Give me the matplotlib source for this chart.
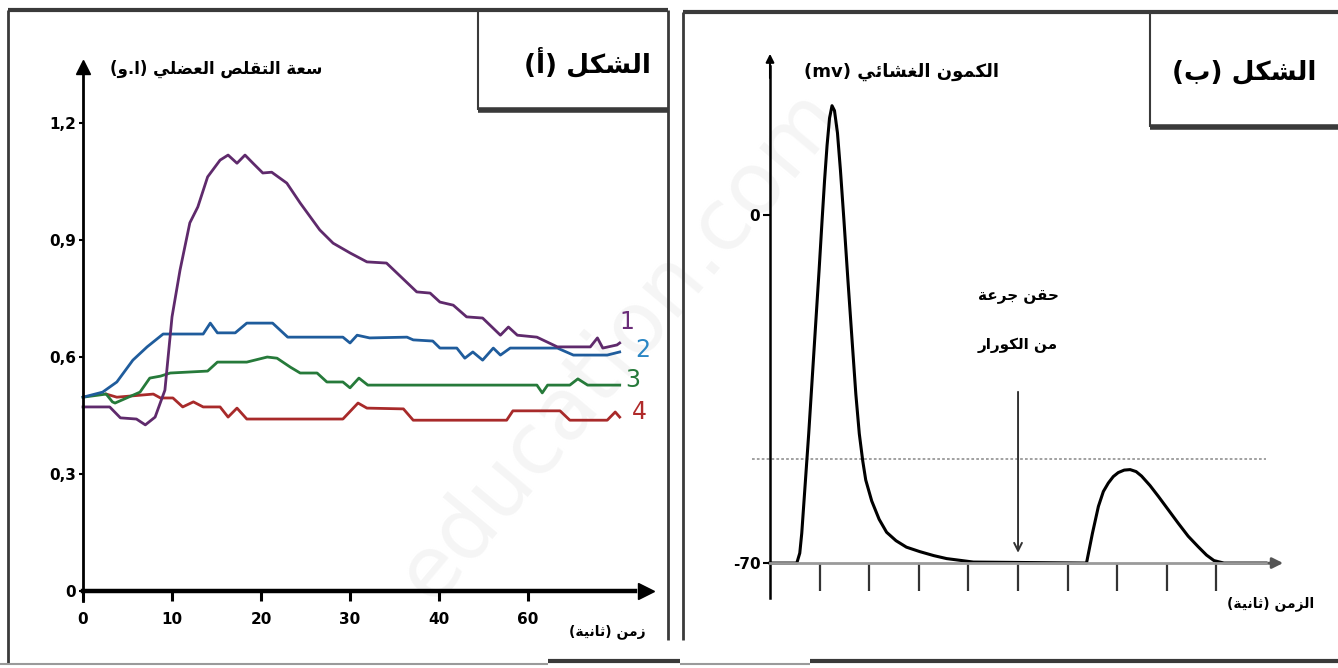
"""Muscle contraction amplitude under curare (fig. a) and membrane potential (fig. b)."""
import matplotlib

matplotlib.use("Agg")
import matplotlib.pyplot as plt
from matplotlib.lines import Line2D

# ---- figure (a): contraction amplitude, arbitrary units ----
T1 = [0, 3.0, 4.2, 6.0, 7.0, 8.1, 9.2, 10.0, 10.9, 12.0, 12.9, 14.0, 15.4, 16.3, 17.3, 18.2,
      19.1, 20.2, 21.2, 22.9, 24.4, 26.6, 28.1, 30.0, 31.9, 34.1, 37.5, 39.0, 40.1, 41.6,
      43.1, 44.9, 46.9, 47.8, 48.8, 51.0, 53.3, 57.0, 57.8, 58.4, 60.0, 60.3]
CURVE1 = [0.472, 0.472, 0.444, 0.441, 0.426, 0.446, 0.515, 0.703, 0.823, 0.944, 0.985, 1.062,
          1.105, 1.118, 1.097, 1.118, 1.097, 1.072, 1.074, 1.046, 0.995, 0.926, 0.892, 0.867,
          0.844, 0.841, 0.767, 0.764, 0.741, 0.733, 0.703, 0.700, 0.656, 0.677, 0.656, 0.651,
          0.626, 0.626, 0.649, 0.623, 0.631, 0.636]

T2 = [0, 2.2, 3.8, 5.6, 7.2, 9.0, 13.5, 14.3, 15.1, 17.1, 18.4, 21.3, 23.0, 29.2, 30.0, 30.8,
      32.2, 36.4, 37.1, 39.3, 40.1, 42.0, 42.9, 43.8, 44.9, 46.1, 46.9, 48.0, 53.3, 55.1,
      58.9, 60.3]
CURVE2 = [0.497, 0.510, 0.536, 0.592, 0.626, 0.659, 0.659, 0.687, 0.662, 0.662, 0.687, 0.687,
          0.651, 0.651, 0.636, 0.656, 0.649, 0.651, 0.644, 0.641, 0.623, 0.623, 0.597, 0.613,
          0.592, 0.623, 0.605, 0.623, 0.623, 0.605, 0.605, 0.613]

T3 = [0, 2.6, 3.3, 3.6, 6.4, 7.5, 8.7, 9.8, 14.0, 15.1, 18.4, 20.7, 21.8, 23.3, 24.4, 26.3,
      27.4, 29.2, 30.0, 31.0, 32.0, 51.0, 51.6, 52.2, 54.7, 55.6, 56.7, 60.3]
CURVE3 = [0.497, 0.505, 0.485, 0.482, 0.510, 0.546, 0.551, 0.559, 0.564, 0.587, 0.587, 0.600,
          0.597, 0.574, 0.559, 0.559, 0.536, 0.536, 0.521, 0.546, 0.528, 0.528, 0.508, 0.528,
          0.528, 0.544, 0.528, 0.528]

T4 = [2.6, 3.8, 7.9, 8.7, 10.1, 11.2, 12.4, 13.5, 15.4, 16.3, 17.3, 18.4, 29.2, 30.9, 31.9,
      36.0, 37.1, 47.6, 48.3, 53.6, 54.7, 58.9, 59.8, 60.3]
CURVE4 = [0.505, 0.497, 0.505, 0.495, 0.495, 0.472, 0.485, 0.472, 0.472, 0.446, 0.469, 0.441,
          0.441, 0.482, 0.469, 0.467, 0.438, 0.438, 0.462, 0.462, 0.438, 0.438, 0.459, 0.446]

X_TICKS_A = [0, 10, 20, 30, 40, 50]
X_LABELS_A = ["0", "10", "20", "30", "40", "60"]
Y_TICKS_A = [0, 0.3, 0.6, 0.9, 1.2]
Y_LABELS_A = ["0", "0,3", "0,6", "0,9", "1,2"]

# ---- figure (b): membrane potential (mV) ----
T_MV = [0, 0.54, 0.60, 0.64, 0.71, 0.78, 0.85, 0.92, 0.99, 1.05, 1.10, 1.15, 1.20, 1.25, 1.30,
        1.36, 1.42, 1.49, 1.57, 1.66, 1.73, 1.80, 1.87, 1.93, 2.05, 2.20, 2.35, 2.54, 2.75,
        3.02, 3.30, 3.56, 4.10, 6.38, 6.44, 6.50, 6.62, 6.72, 6.82, 6.92, 7.02, 7.14, 7.26,
        7.38, 7.49, 7.66, 7.83, 8.03, 8.23, 8.43, 8.63, 8.80, 8.95, 9.15, 10.0]
POTENTIAL = [-70, -70, -68, -64, -54, -44, -33, -22, -11, -1, 7, 14, 19.5, 22, 21, 16.5, 9, -1,
             -13, -26, -36, -44, -49.5, -53.3, -57.5, -61.2, -63.8, -65.5, -66.8, -67.7, -68.5,
             -69.1, -69.8, -70, -67, -64, -58.6, -55.6, -53.9, -52.6, -51.8, -51.3, -51.2,
             -51.6, -52.5, -54.4, -56.6, -59.3, -62.0, -64.6, -66.7, -68.4, -69.5, -70, -70]
THRESHOLD = -49
INJECTION_T = 5
X_TICKS_B = [1, 2, 3, 4, 5, 6, 7, 8, 9]
Y_TICKS_B = [0, -70]
Y_LABELS_B = ["0", "-70"]

TITLE_A = "الشكل (أ)"
TITLE_B = "الشكل (ب)"
YLABEL_A = "سعة التقلص العضلي (ا.و)"
YLABEL_B = "الكمون الغشائي"
XLABEL_A = "زمن (ثانية)"
XLABEL_B = "الزمن (ثانية)"
NOTE_B = ["حقن جرعة", "من الكورار"]

# presentation forms B: isolated, final, initial, medial
DUAL = {"ب": 0xFE8F, "ت": 0xFE95, "ث": 0xFE99, "ج": 0xFE9D, "ح": 0xFEA1, "س": 0xFEB1,
        "ش": 0xFEB5, "ص": 0xFEB9, "ض": 0xFEBD, "ع": 0xFEC9, "غ": 0xFECD, "ق": 0xFED5,
        "ك": 0xFED9, "ل": 0xFEDD, "م": 0xFEE1, "ن": 0xFEE5, "ه": 0xFEE9, "ي": 0xFEF1,
        "ئ": 0xFE89}
RIGHT = {"ا": 0xFE8D, "أ": 0xFE83, "ة": 0xFE93, "د": 0xFEA9, "ر": 0xFEAD, "ز": 0xFEAF,
         "و": 0xFEED}

AR_FONT = "DejaVu Sans"


def ar(text: str) -> str:
    """Shape Arabic letters and put them in visual (left to right) order."""
    out = []
    for i, c in enumerate(text):
        if c not in DUAL and c not in RIGHT:
            out.append(c)
            continue
        prev = text[i - 1] if i > 0 else ""
        nxt = text[i + 1] if i + 1 < len(text) else ""
        join_prev = prev in DUAL
        join_next = c in DUAL and (nxt in DUAL or nxt in RIGHT)
        base = DUAL.get(c, RIGHT.get(c))
        if join_prev and join_next:
            out.append(chr(base + 3))
        elif join_prev:
            out.append(chr(base + 1))
        elif join_next:
            out.append(chr(base + 2))
        else:
            out.append(chr(base))
    return "".join(out)[::-1].translate(str.maketrans("()", ")("))


def draw_frames(fig):
    bg = fig.add_axes([0, 0, 1, 1], zorder=-5)
    bg.set_xlim(0, 1338)
    bg.set_ylim(668, 0)
    bg.axis("off")
    dark = "#3a3a3a"
    segs = [
        ((8, 668), (10, 10), 3.0, dark), ((8, 8), (10, 664), 2.0, dark),
        ((668, 668), (10, 640), 2.0, dark), ((478, 478), (10, 110), 1.5, dark),
        ((478, 668), (110, 110), 4.0, dark),
        ((683, 1338), (12, 12), 3.0, dark), ((683, 683), (12, 640), 2.0, dark),
        ((1150, 1150), (12, 127), 1.5, dark), ((1150, 1338), (127, 127), 4.0, dark),
        ((0, 548), (664, 664), 1.5, "#9a9a9a"), ((548, 680), (661, 661), 3.0, dark),
        ((680, 810), (664, 664), 1.5, "#9a9a9a"), ((810, 1338), (661, 661), 3.0, dark),
    ]
    for xs, ys, lw, col in segs:
        bg.add_line(Line2D(xs, ys, lw=lw, color=col, solid_capstyle="butt"))
    bg.text(620, 345, "education.com", rotation=50, fontsize=62, color="#f5f5f5",
            ha="center", va="center", zorder=-6)


def plot_a(fig):
    ax = fig.add_axes([8 / 1338, 8 / 668, 660 / 1338, 650 / 668])
    ax.set_xlim(-8.43, 65.73)
    ax.set_ylim(-0.177, 1.49)
    ax.patch.set_alpha(0)
    for side in ("top", "right"):
        ax.spines[side].set_visible(False)
    ax.spines["left"].set_position(("data", 0))
    ax.spines["left"].set_bounds(-0.025, 1.33)
    ax.spines["left"].set_linewidth(2.0)
    ax.spines["bottom"].set_position(("data", 0))
    ax.spines["bottom"].set_bounds(0, 62)
    ax.spines["bottom"].set_linewidth(3.2)
    ax.plot([0], [1.345], marker="^", color="k", ms=10, clip_on=False)
    ax.plot([63.3], [0], marker=">", color="k", ms=12, clip_on=False)

    ax.set_xticks(X_TICKS_A, X_LABELS_A)
    ax.set_yticks(Y_TICKS_A, Y_LABELS_A)
    ax.tick_params(axis="x", direction="out", length=7, width=2.2, pad=8, labelsize=11)
    ax.tick_params(axis="y", direction="out", length=3, width=1.5, pad=2, labelsize=11)
    for lab in ax.get_xticklabels() + ax.get_yticklabels():
        lab.set_fontweight("bold")

    ax.plot(T4, CURVE4, color="#a82a2a", lw=2.0)
    ax.plot(T3, CURVE3, color="#267a3a", lw=2.0)
    ax.plot(T2, CURVE2, color="#1f5c9c", lw=2.0)
    ax.plot(T1, CURVE1, color="#5f2a6c", lw=2.0)

    ax.text(61.1, 0.689, "1", color="#6a2c78", fontsize=17, ha="center", va="center")
    ax.text(62.9, 0.619, "2", color="#2a86c4", fontsize=17, ha="center", va="center")
    ax.text(61.8, 0.541, "3", color="#267a3a", fontsize=17, ha="center", va="center")
    ax.text(62.5, 0.459, "4", color="#b02a2a", fontsize=17, ha="center", va="center")

    ax.text(15.0, 1.338, ar(YLABEL_A), fontsize=12, fontweight="bold", family=AR_FONT,
            ha="center", va="center")
    ax.text(58.9, -0.105, ar(XLABEL_A), fontsize=10, fontweight="bold", family=AR_FONT,
            ha="center", va="center")
    ax.text(56.7, 1.355, ar(TITLE_A), fontsize=19, fontweight="bold", family=AR_FONT,
            ha="center", va="center")


def plot_b(fig):
    ax = fig.add_axes([683 / 1338, 8 / 668, 655 / 1338, 648 / 668])
    ax.set_xlim(-1.754, 11.45)
    ax.set_ylim(-89.5, 40.85)
    ax.patch.set_alpha(0)
    for side in ("top", "right"):
        ax.spines[side].set_visible(False)
    ax.spines["left"].set_position(("data", 0))
    ax.spines["left"].set_bounds(-77, 30)
    ax.spines["left"].set_linewidth(1.8)
    ax.spines["bottom"].set_position(("data", -70))
    ax.spines["bottom"].set_bounds(0, 10.1)
    ax.spines["bottom"].set_linewidth(2.0)
    ax.spines["bottom"].set_color("#9a9a9a")
    ax.annotate("", xy=(0, 33), xytext=(0, 27),
                arrowprops=dict(arrowstyle="-|>", color="k", lw=1.5, mutation_scale=12))
    ax.annotate("", xy=(10.4, -70), xytext=(10.0, -70),
                arrowprops=dict(arrowstyle="-|>", color="#555555", lw=2, mutation_scale=16))

    ax.set_xticks(X_TICKS_B, [""] * len(X_TICKS_B))
    ax.set_yticks(Y_TICKS_B, Y_LABELS_B)
    ax.tick_params(axis="x", direction="out", length=20, width=1.6, colors="#333333")
    ax.tick_params(axis="y", direction="out", length=5, width=1.5, pad=2, labelsize=11)
    for lab in ax.get_yticklabels():
        lab.set_fontweight("bold")

    ax.plot([-0.36, 10.0], [THRESHOLD, THRESHOLD], color="#9a9a9a", lw=1.3, ls=(0, (1.5, 1.2)))
    ax.plot(T_MV, POTENTIAL, color="k", lw=2.2, solid_joinstyle="round")
    ax.annotate("", xy=(INJECTION_T, -68.5), xytext=(INJECTION_T, -35),
                arrowprops=dict(arrowstyle="->", color="#333333", lw=1.4, mutation_scale=14))

    ax.text(INJECTION_T, -16.4, ar(NOTE_B[0]), fontsize=11, fontweight="bold",
            family=AR_FONT, ha="center", va="center")
    ax.text(INJECTION_T, -26.2, ar(NOTE_B[1]), fontsize=11, fontweight="bold",
            family=AR_FONT, ha="center", va="center")
    ax.text(2.65, 28.9, "(mv) " + ar(YLABEL_B), fontsize=13, fontweight="bold",
            family=AR_FONT, ha="center", va="center")
    ax.text(10.1, -78.1, ar(XLABEL_B), fontsize=10, fontweight="bold", family=AR_FONT,
            ha="center", va="center")
    ax.text(9.55, 28.7, ar(TITLE_B), fontsize=19, fontweight="bold", family=AR_FONT,
            ha="center", va="center")


def main() -> None:
    fig = plt.figure(figsize=(13.38, 6.68), dpi=100)
    draw_frames(fig)
    plot_a(fig)
    plot_b(fig)
    fig.savefig("out.png", dpi=100)
    plt.close(fig)


if __name__ == "__main__":
    main()
